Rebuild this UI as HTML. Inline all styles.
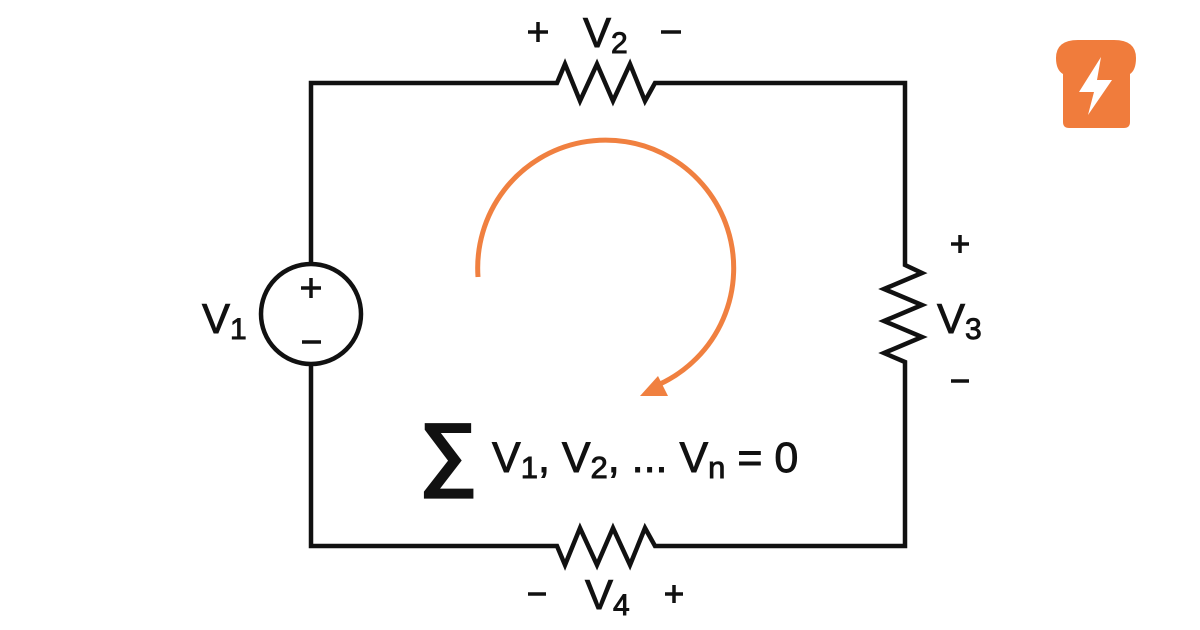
<!DOCTYPE html>
<html><head><meta charset="utf-8"><style>
html,body{margin:0;padding:0;background:#fff;}
svg{display:block}
text{font-family:"Liberation Sans","DejaVu Sans",sans-serif;fill:#111;stroke:#111;stroke-width:0.9}
</style></head><body>
<svg width="1200" height="630" viewBox="0 0 1200 630" xmlns="http://www.w3.org/2000/svg">
<g fill="none" stroke="#111" stroke-width="4.5" stroke-linejoin="miter">
<polyline points="311,262 311,83 557,83 565,64 580,101 597,64 613,101 630,64 645,101 655,83 905,83 905,265 922,273 884,289 922,305 884,321 922,337 884,353 905,362 905,546 655,546 645,528 630,565 613,528 597,565 580,528 565,565 557,546 311,546 311,366"/>
<circle cx="311" cy="314" r="50"/>
</g>
<g stroke="#111" stroke-width="3.5">
<line x1="311" y1="278" x2="311" y2="298"/><line x1="301" y1="288" x2="321" y2="288"/>
<line x1="302" y1="342" x2="321" y2="342"/>
<line x1="528" y1="32" x2="548" y2="32"/><line x1="538" y1="22" x2="538" y2="42"/>
<line x1="661" y1="32" x2="681" y2="32"/>
<line x1="951" y1="244" x2="969" y2="244"/><line x1="960" y1="235" x2="960" y2="253"/>
<line x1="951" y1="381" x2="969" y2="381"/>
<line x1="528" y1="594" x2="546" y2="594"/>
<line x1="665" y1="594" x2="683" y2="594"/><line x1="674" y1="585" x2="674" y2="603"/>
</g>
<text x="583" y="47" font-size="42">V<tspan font-size="30" dy="6">2</tspan></text>
<text x="202" y="333" font-size="42">V<tspan font-size="30" dy="6">1</tspan></text>
<text x="937" y="333" font-size="42">V<tspan font-size="30" dy="6">3</tspan></text>
<text x="585" y="609" font-size="42">V<tspan font-size="30" dy="6">4</tspan></text>
<path d="M478,277 A128,128 0 1 1 660,384" fill="none" stroke="#f08040" stroke-width="5"/>
<polygon points="640,396 668,396 658,376" fill="#f08040"/>
<text x="419" y="480" font-size="82" font-weight="bold" font-family="Liberation Serif,serif" stroke-width="1">∑</text>
<text x="492" y="472" font-size="43">V<tspan font-size="31" dy="6">1</tspan><tspan dy="-6">, V</tspan><tspan font-size="31" dy="6">2</tspan><tspan dy="-6">, ... V</tspan><tspan font-size="31" dy="6">n</tspan><tspan dy="-6"> = 0</tspan></text>
<path d="M1063,122 L1063,74 Q1056,70 1056,58 Q1056,40 1078,40 L1114,40 Q1136,40 1136,58 Q1136,70 1130,74 L1130,122 Q1130,128 1124,128 L1069,128 Q1063,128 1063,122 Z" fill="#f07c3c"/>
<polygon points="1101,57 1079,92 1094,92 1088,115 1112,80 1097,80" fill="#fff"/>
</svg>
</body></html>
